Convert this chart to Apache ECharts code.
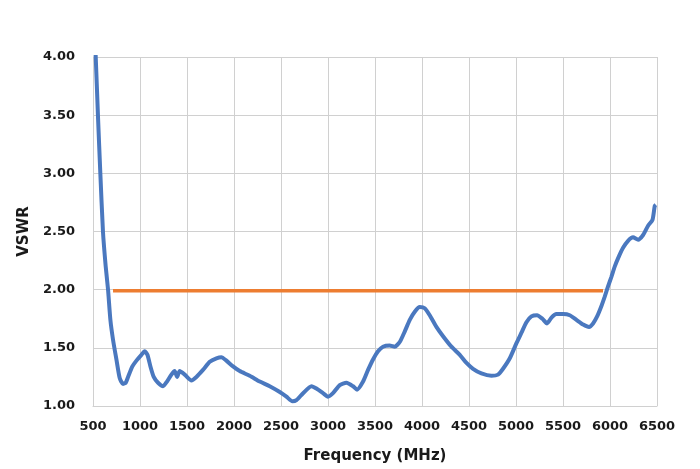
<!DOCTYPE html>
<html><head><meta charset="utf-8">
<script src="https://cdn.jsdelivr.net/npm/echarts@6/dist/echarts.min.js"></script>
<style>html,body{margin:0;padding:0;background:#fff}#c{width:700px;height:469px}</style>
</head><body><div id="c"></div>
<script>
const freqMHz = [520,529,553,578,606,635,660,685,713,749,784,819,848,873,919,962,1015,1050,1079,1111,1146,1192,1245,1287,1334,1369,1394,1422,1476,1547,1600,1670,1742,1813,1866,1919,1990,2061,2167,2274,2380,2487,2558,2622,2664,2735,2824,2877,2947,3000,3053,3125,3196,3266,3309,3373,3426,3479,3532,3585,3656,3710,3763,3816,3870,3923,3976,4029,4082,4153,4224,4313,4402,4473,4543,4632,4739,4809,4862,4934,5005,5058,5111,5164,5224,5281,5330,5377,5430,5501,5572,5643,5714,5777,5820,5863,5909,5944,5980,6015,6051,6097,6139,6192,6245,6299,6352,6405,6452,6476,6487];
const vswr = [4.15,4.00,3.49,3.00,2.50,2.20,2.00,1.74,1.57,1.40,1.24,1.19,1.20,1.25,1.34,1.39,1.44,1.47,1.44,1.34,1.25,1.20,1.17,1.21,1.27,1.30,1.25,1.30,1.27,1.22,1.25,1.31,1.38,1.41,1.42,1.39,1.34,1.30,1.26,1.21,1.17,1.12,1.08,1.04,1.05,1.11,1.17,1.15,1.11,1.08,1.11,1.18,1.20,1.17,1.14,1.21,1.31,1.40,1.47,1.51,1.52,1.51,1.55,1.64,1.74,1.81,1.85,1.84,1.78,1.68,1.60,1.51,1.44,1.37,1.32,1.28,1.26,1.27,1.32,1.41,1.54,1.63,1.72,1.77,1.78,1.75,1.71,1.76,1.79,1.79,1.78,1.74,1.70,1.68,1.71,1.77,1.86,1.94,2.03,2.11,2.20,2.29,2.36,2.42,2.45,2.43,2.47,2.55,2.60,2.72,2.73];
const limitFreq = [713,5926];
const limitVswr = [1.99,1.99];
const xTicks = {min:500,max:6500,interval:500};
const yTicks = {min:1,max:4,interval:0.5};

const chart = echarts.init(document.getElementById('c'));
const font = '"DejaVu Sans", Verdana, sans-serif';
chart.setOption({
  animation:false,
  grid:{left:93,right:43,top:57,bottom:63},
  xAxis:{type:'value',min:xTicks.min,max:xTicks.max,interval:xTicks.interval,
    name:'Frequency (MHz)',nameLocation:'middle',nameGap:43,
    nameTextStyle:{fontFamily:font,fontWeight:'bold',fontSize:15,color:'#1a1a1a'},
    axisLine:{lineStyle:{color:'#d0d0d0'}},axisTick:{show:false},
    axisLabel:{fontFamily:font,fontWeight:'bold',fontSize:13,color:'#1a1a1a',margin:14,formatter:v=>String(v)},
    splitLine:{show:true,lineStyle:{color:'#d0d0d0',width:1}}},
  yAxis:{type:'value',min:yTicks.min,max:yTicks.max,interval:yTicks.interval,
    name:'VSWR',nameLocation:'middle',nameGap:60,nameRotate:90,
    nameTextStyle:{fontFamily:font,fontWeight:'bold',fontSize:15,color:'#1a1a1a'},
    axisLine:{show:true,lineStyle:{color:'#d0d0d0'}},axisTick:{show:false},
    axisLabel:{fontFamily:font,fontWeight:'bold',fontSize:13,color:'#1a1a1a',margin:18,formatter:v=>v.toFixed(2)},
    splitLine:{show:true,lineStyle:{color:'#d0d0d0',width:1}}},
  series:[
    {type:'line',data:limitFreq.map((f,i)=>[f,limitVswr[i]]),showSymbol:false,
      lineStyle:{color:'#ED7D31',width:3.5},z:2},
    {type:'line',data:freqMHz.map((f,i)=>[f,vswr[i]]),showSymbol:false,smooth:0.2,clip:true,
      lineStyle:{color:'#4A78BF',width:4},z:3}
  ]
});
</script></body></html>
